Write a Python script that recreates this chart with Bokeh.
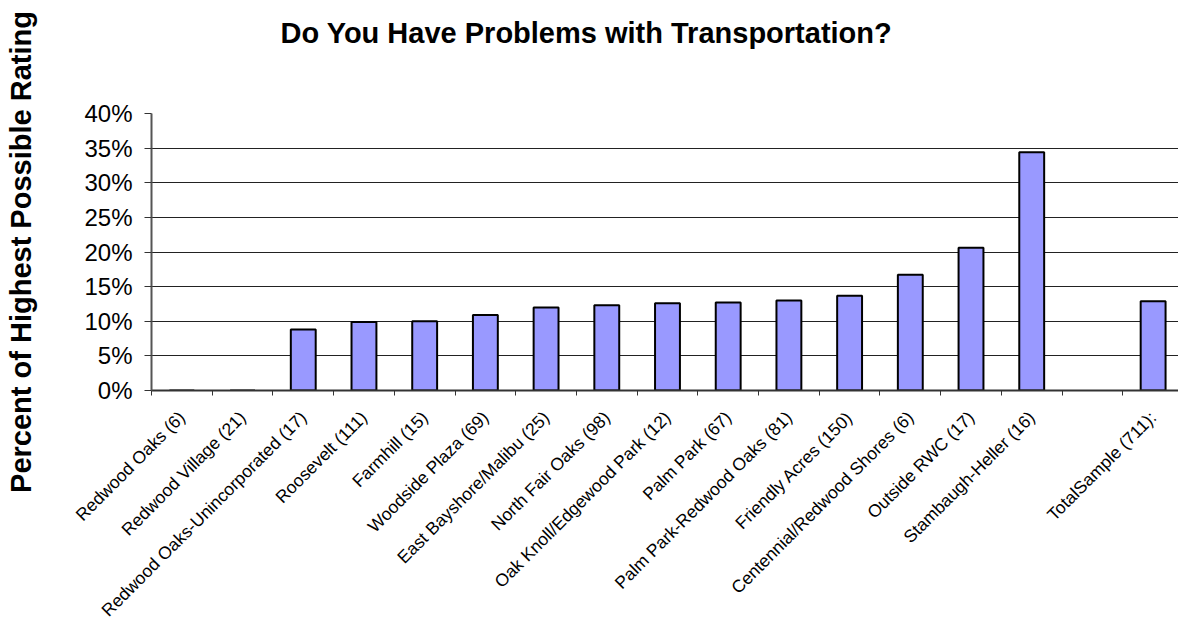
import math
from bokeh.plotting import figure
from bokeh.models import FixedTicker, NumeralTickFormatter, Range1d
from bokeh.embed import file_html
from bokeh.resources import INLINE

categories = [
    "Redwood Oaks (6)", "Redwood Village (21)", "Redwood Oaks-Unincorporated (17)",
    "Roosevelt (111)", "Farmhill (15)", "Woodside Plaza (69)", "East Bayshore/Malibu (25)",
    "North Fair Oaks (98)", "Oak Knoll/Edgewood Park (12)", "Palm Park (67)",
    "Palm Park-Redwood Oaks (81)", "Friendly Acres (150)", "Centennial/Redwood Shores (6)",
    "Outside RWC (17)", "Stambaugh-Heller (16)", "", "TotalSample (711):",
]
values = [0.0, 0.0, 0.088, 0.099, 0.100, 0.109, 0.120, 0.123, 0.126, 0.127,
          0.130, 0.137, 0.167, 0.206, 0.344, float("nan"), 0.129]
y_ticks = [0.0, 0.05, 0.10, 0.15, 0.20, 0.25, 0.30, 0.35, 0.40]
title_text = "Do You Have Problems with Transportation?"
y_label = "Percent of Highest Possible Rating"

FONT = "Liberation Sans"
xs = list(range(len(categories)))

p = figure(width=1178, height=630, output_backend="svg", toolbar_location=None,
           x_range=Range1d(-0.5, len(categories) - 0.582), y_range=Range1d(0, 0.40),
           min_border_left=151, min_border_right=0, min_border_top=0, min_border_bottom=240)

p.vbar(x=xs, top=values, width=0.41, bottom=0, fill_color="#9999FF",
       line_color="black", line_width=2)

# title: a blank second line keeps the heading high above the plot area
p.title.text = title_text + "\n "
p.title.text_font = FONT
p.title.text_font_size = "29px"
p.title.text_font_style = "bold"
p.title.text_color = "black"
p.title.text_line_height = 1.57
p.title.align = "left"
p.title.offset = 129
p.title.standoff = 29

p.outline_line_color = None
p.xgrid.grid_line_color = None
p.ygrid.grid_line_color = "#222222"
p.ygrid.grid_line_width = 1
p.ygrid.ticker = FixedTicker(ticks=y_ticks)

# x axis: labels at centres, tick marks at slot boundaries
xa = p.xaxis[0]
xa.ticker = FixedTicker(ticks=xs, minor_ticks=[i - 0.5 for i in xs] + [len(xs) - 0.5])
xa.major_label_overrides = {i: c for i, c in zip(xs, categories)}
xa.major_label_orientation = math.pi / 4
xa.major_tick_out = 0
xa.major_tick_in = 0
xa.minor_tick_out = 5
xa.minor_tick_in = 0
xa.minor_tick_line_color = "#333333"
xa.minor_tick_line_width = 1
xa.axis_line_color = "#333333"
xa.axis_line_width = 2
xa.major_label_text_font = FONT
xa.major_label_text_font_size = "17.5px"
xa.major_label_text_color = "black"
xa.major_label_standoff = 19

ya = p.yaxis[0]
ya.ticker = FixedTicker(ticks=y_ticks)
ya.formatter = NumeralTickFormatter(format="0%")
ya.major_tick_out = 7
ya.major_tick_in = 0
ya.minor_tick_out = 0
ya.minor_tick_in = 0
ya.major_tick_line_color = "#333333"
ya.axis_line_color = "#555555"
ya.axis_line_width = 2
ya.major_label_text_font = FONT
ya.major_label_text_font_size = "24px"
ya.major_label_text_color = "black"
ya.major_label_standoff = 12
ya.axis_label = y_label
ya.axis_label_text_font = FONT
ya.axis_label_text_font_size = "29px"
ya.axis_label_text_font_style = "bold"
ya.axis_label_text_color = "black"
ya.axis_label_standoff = 44

open("out.html", "w").write(file_html(p, INLINE))
